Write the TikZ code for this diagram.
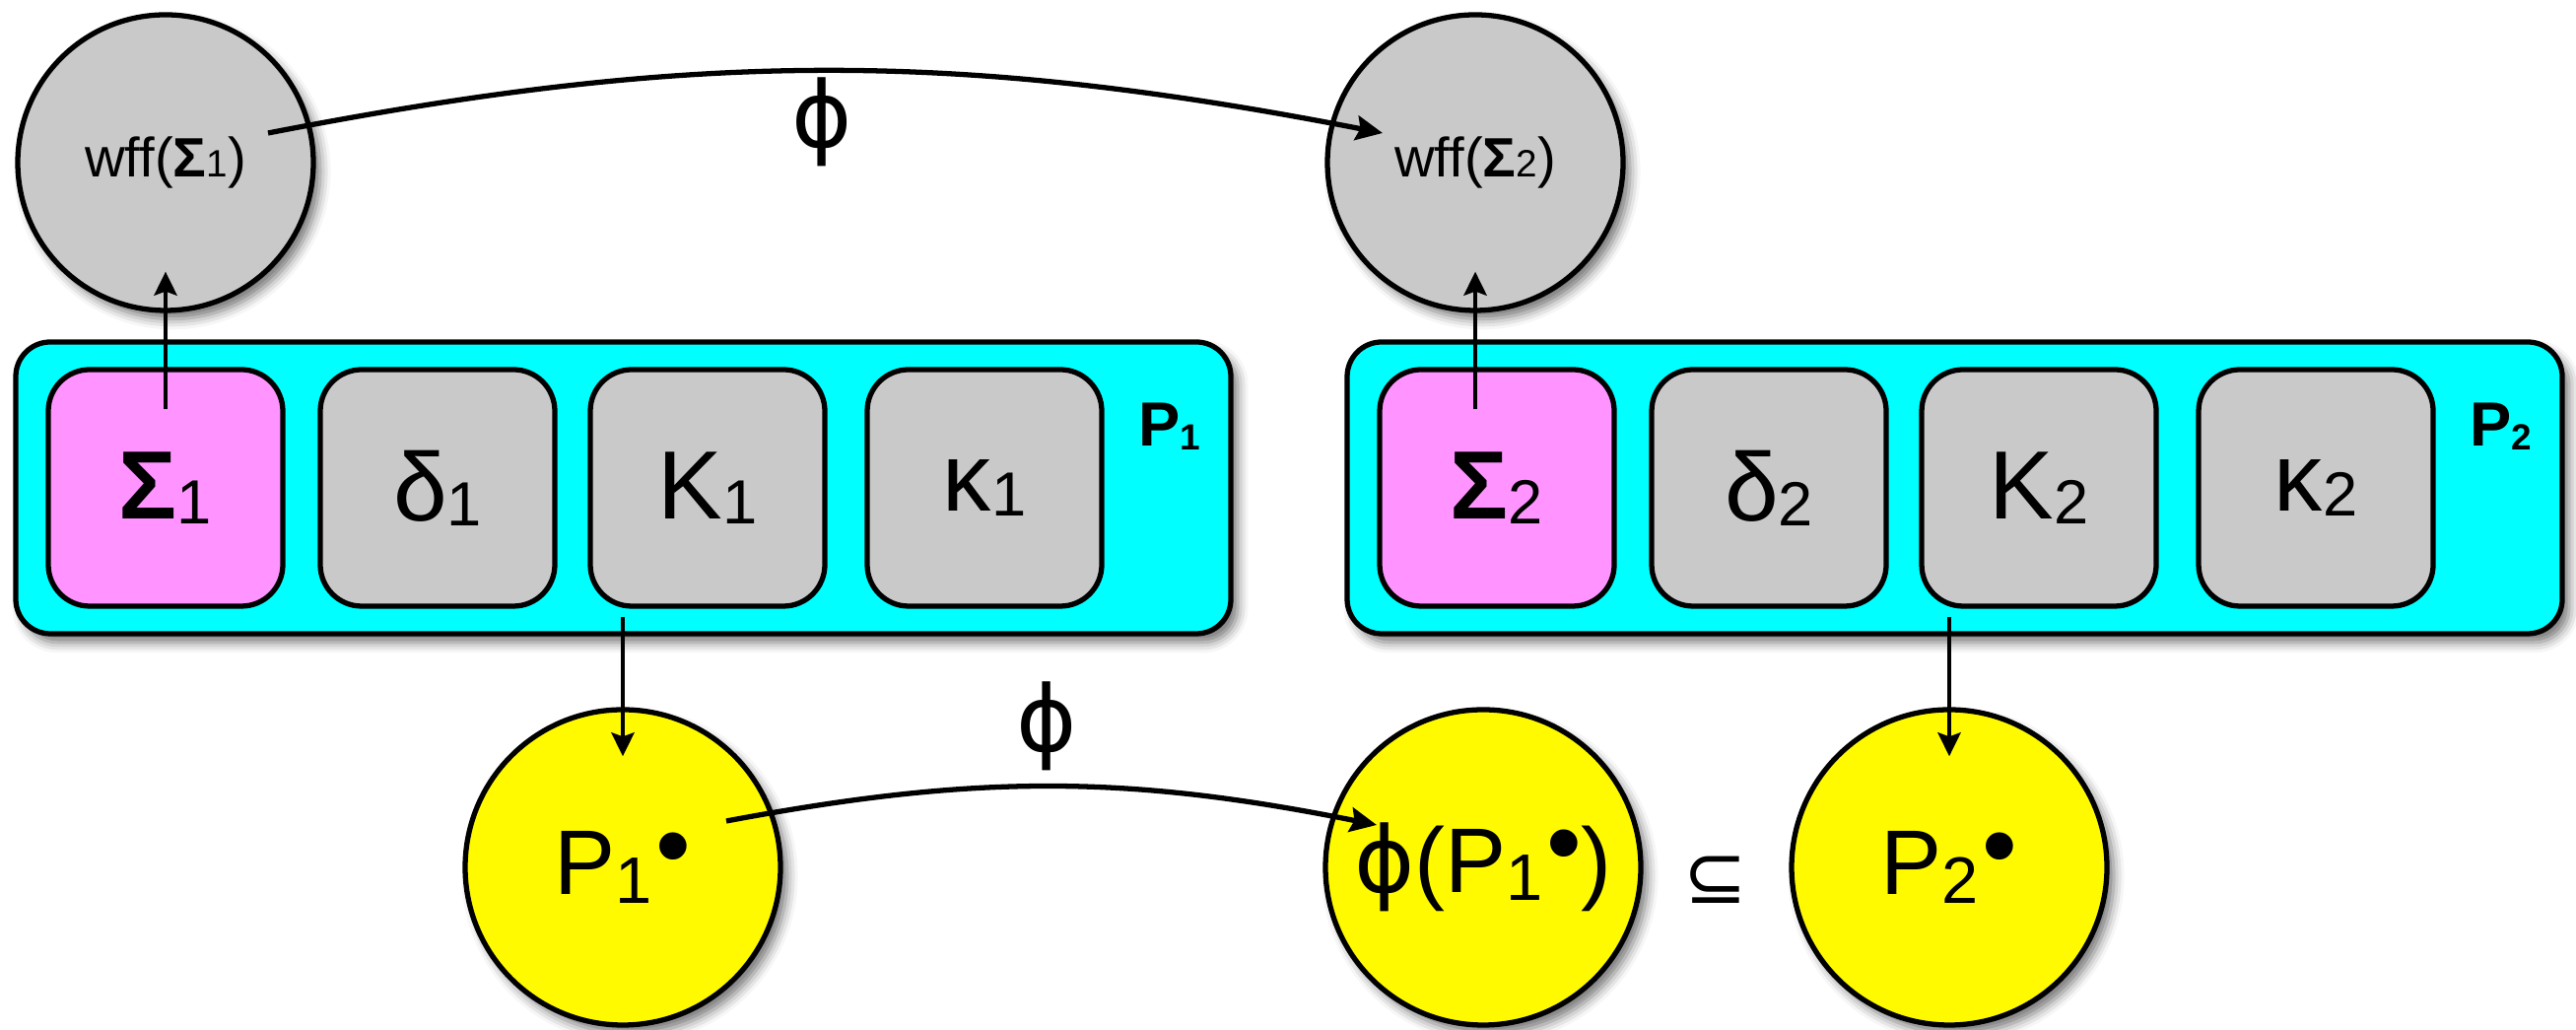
\documentclass[tikz,border=0pt]{standalone}
\usepackage{fontspec}
\setmainfont{Liberation Sans}
\newfontfamily\djv{DejaVu Sans}
\usetikzlibrary{arrows.meta,calc,shadows.blur}
\definecolor{cgray}{HTML}{C9C9C9}
\definecolor{cpink}{HTML}{FF93FF}
\definecolor{ccyan}{HTML}{00FFFF}
\definecolor{cyel}{HTML}{FFFA00}
\newcommand\subl[1]{{\fontsize{18}{18}\selectfont\raisebox{-1.4pt}{#1}}}
\newcommand\suby[1]{{\fontsize{19}{19}\selectfont\raisebox{-2.3pt}{#1}}}
\newcommand\bul{\hspace{1pt}\raisebox{4.5pt}{\fontsize{29}{29}\selectfont\textbullet}}
\newcommand\subw[1]{{\fontsize{10.5}{11}\selectfont\raisebox{-1pt}{#1}}}
\newcommand\phig{{\djv ϕ}}
\begin{document}
\begin{tikzpicture}[x=0.1mm,y=0.1mm,
  shd/.style={blur shadow={shadow xshift=2pt,shadow yshift=-2.5pt,shadow blur radius=3pt,shadow opacity=55}},
  outerbox/.style={draw,line width=1.5pt,fill=ccyan,rounded corners=3.5mm,minimum width=123.3mm,minimum height=29.6mm,shd},
  inbox/.style={draw,line width=1.5pt,rounded corners=4.2mm,minimum width=23.8mm,minimum height=24mm,inner sep=0pt,font=\fontsize{28}{28}\selectfont},
  gcirc/.style={circle,draw,line width=1.5pt,fill=cgray,minimum size=30mm,inner sep=0pt,font=\fontsize{16}{16}\selectfont,shd},
  ycirc/.style={circle,draw,line width=1.5pt,fill=cyel,minimum size=32mm,inner sep=0pt,font=\fontsize{26.5}{26.5}\selectfont,shd},
  plabel/.style={font=\fontsize{18}{18}\selectfont\bfseries,inner sep=0pt},
  arr/.style={line width=1.3pt,-{Stealth[length=2.4mm,width=2.3mm,inset=0.4mm]}},
  arc/.style={line width=1.5pt,-{Stealth[length=2.7mm,width=2.5mm,inset=0.4mm]}},
  phil/.style={font=\fontsize{26.5}{26.5}\selectfont,inner sep=0pt}]
\useasboundingbox (0,0) rectangle (2614,1045);

% outer boxes
\node[outerbox] (P1) at (632.5,550) {};
\node[outerbox] (P2) at (1983.5,550) {};

% inner boxes P1
\node[inbox,fill=cpink] (s1) at (168,550) {{\bfseries Σ}\subl{1}};
\node[inbox,fill=cgray] (d1) at (444,550) {δ\subl{1}};
\node[inbox,fill=cgray] (k1) at (718,550) {K\subl{1}};
\node[inbox,fill=cgray] (q1) at (999,550) {κ\subl{1}};
\node[plabel] (p1l) at (1187,612) {P\subw{1}};

% inner boxes P2
\node[inbox,fill=cpink] (s2) at (1519,550) {{\bfseries Σ}\subl{2}};
\node[inbox,fill=cgray] (d2) at (1795,550) {δ\subl{2}};
\node[inbox,fill=cgray] (k2) at (2069,550) {K\subl{2}};
\node[inbox,fill=cgray] (q2) at (2350,550) {κ\subl{2}};
\node[plabel] (p2l) at (2538,612) {P\subw{2}};

% wff circles
\node[gcirc] (w1) at (168,880) {wff({\bfseries Σ}{\fontsize{11}{11}\selectfont 1})};
\node[gcirc] (w2) at (1497,880) {wff({\bfseries Σ}{\fontsize{11}{11}\selectfont 2})};

% yellow circles
\node[ycirc] (y1) at (632,165) {P\suby{1}\bul};
\node[ycirc] (y2) at (1505,165) {\phig(P\suby{1}\bul)};
\node[ycirc] (y3) at (1978,165) {P\suby{2}\bul};
\node[font=\djv\fontsize{22}{22}\selectfont,inner sep=0pt] (sub) at (1741,152) {⊆};

% labels
\node[phil] (phitop) at (834,921) {\phig};
\node[phil] (phibot) at (1062,308) {\phig};

% arrows
\draw[arr] ($(s1.north)+(0,-43)$) -- ($(w1.south)+(0,42)$);
\draw[arr] ($(s2.north -| w2.south)+(0,-43)$) -- ($(w2.south)+(0,42)$);
\draw[arr] ($(k1.south -| y1.north)+(0,-8)$) -- ($(y1.north)+(0,-50)$);
\draw[arr] ($(k2.south -| y3.north)+(0,-8)$) -- ($(y3.north)+(0,-50)$);
\draw[arc] ($(w1.center)+(104,30)$) to[bend left=11] ($(w2.center)+(-94,30)$);
\draw[arc] ($(y1.center)+(105,47)$) to[bend left=11] ($(y2.center)+(-108,43)$);
\end{tikzpicture}
\end{document}
